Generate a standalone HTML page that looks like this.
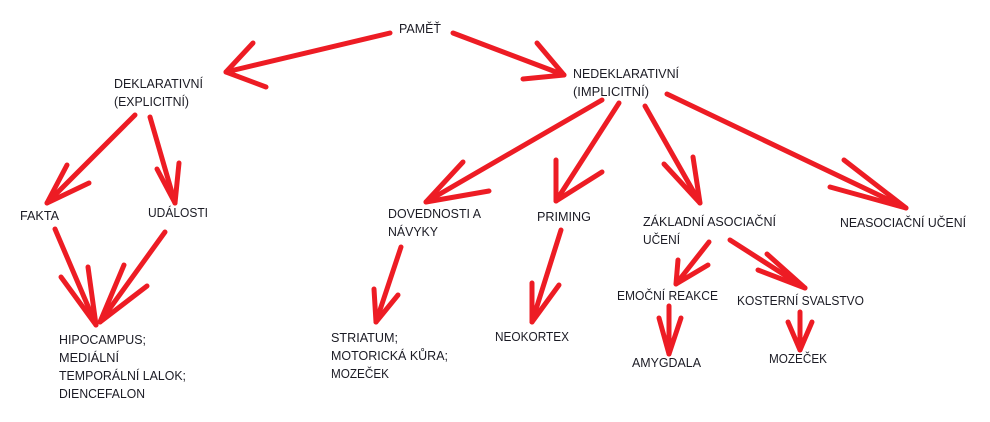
<!DOCTYPE html>
<html><head><meta charset="utf-8"><style>
html,body{margin:0;padding:0;background:#fff;width:990px;height:422px;overflow:hidden}
svg{display:block}
text{font-family:"Liberation Sans",sans-serif;font-size:13px;fill:#1b1b24}
.a{fill:none;stroke:#ed1c24;stroke-width:5;stroke-linecap:round;stroke-linejoin:round}
</style></head><body>
<svg width="990" height="422" viewBox="0 0 990 422" xmlns="http://www.w3.org/2000/svg">
<g class="a">
<polyline points="390,33 226,72"/><polyline points="253,43 226,72 266,87"/>
<polyline points="453,33 564,75"/><polyline points="537,43 564,75 523,79"/>
<polyline points="135,115 47,203"/><polyline points="67,165 47,203 89,183"/>
<polyline points="150,117 175,203"/><polyline points="157,169 175,203 179,163"/>
<polyline points="55,229 96,325"/><polyline points="61,277 96,325 88,267"/>
<polyline points="165,232 100,322"/><polyline points="124,265 100,322 147,286"/>
<polyline points="401,247 376,322"/><polyline points="374,289 376,322 398,295"/>
<polyline points="602,100 426,202"/><polyline points="463,162 426,202 489,191"/>
<polyline points="619,103 556,201"/><polyline points="556,160 556,201 602,172"/>
<polyline points="645,106 700,203"/><polyline points="664,164 700,203 693,157"/>
<polyline points="667,94 906,208"/><polyline points="844,160 906,208 830,187"/>
<polyline points="561,230 532,322"/><polyline points="532,283 532,322 559,285"/>
<polyline points="709,242 676,284"/><polyline points="678,260 676,284 708,265"/>
<polyline points="730,240 805,288"/><polyline points="767,254 805,288 758,270"/>
<polyline points="669,306 669,354"/><polyline points="659,318 669,354 681,318"/>
<polyline points="800,312 800,350"/><polyline points="788,322 800,350 812,322"/>
</g>
<text x="399" y="33" textLength="42" lengthAdjust="spacingAndGlyphs">PAMĚŤ</text>
<text x="114" y="88" textLength="89" lengthAdjust="spacingAndGlyphs">DEKLARATIVNÍ</text>
<text x="114" y="106" textLength="75" lengthAdjust="spacingAndGlyphs">(EXPLICITNÍ)</text>
<text x="20" y="220" textLength="39" lengthAdjust="spacingAndGlyphs">FAKTA</text>
<text x="148" y="217" textLength="60" lengthAdjust="spacingAndGlyphs">UDÁLOSTI</text>
<text x="59" y="344" textLength="87" lengthAdjust="spacingAndGlyphs">HIPOCAMPUS;</text>
<text x="59" y="362" textLength="60" lengthAdjust="spacingAndGlyphs">MEDIÁLNÍ</text>
<text x="59" y="380" textLength="127" lengthAdjust="spacingAndGlyphs">TEMPORÁLNÍ LALOK;</text>
<text x="59" y="398" textLength="86" lengthAdjust="spacingAndGlyphs">DIENCEFALON</text>
<text x="388" y="218" textLength="93" lengthAdjust="spacingAndGlyphs">DOVEDNOSTI A</text>
<text x="388" y="236" textLength="50" lengthAdjust="spacingAndGlyphs">NÁVYKY</text>
<text x="331" y="342" textLength="67" lengthAdjust="spacingAndGlyphs">STRIATUM;</text>
<text x="331" y="360" textLength="117" lengthAdjust="spacingAndGlyphs">MOTORICKÁ KŮRA;</text>
<text x="331" y="378" textLength="58" lengthAdjust="spacingAndGlyphs">MOZEČEK</text>
<text x="573" y="78" textLength="106" lengthAdjust="spacingAndGlyphs">NEDEKLARATIVNÍ</text>
<text x="573" y="96" textLength="76" lengthAdjust="spacingAndGlyphs">(IMPLICITNÍ)</text>
<text x="537" y="221" textLength="54" lengthAdjust="spacingAndGlyphs">PRIMING</text>
<text x="643" y="226" textLength="133" lengthAdjust="spacingAndGlyphs">ZÁKLADNÍ ASOCIAČNÍ</text>
<text x="643" y="244" textLength="37" lengthAdjust="spacingAndGlyphs">UČENÍ</text>
<text x="840" y="227" textLength="126" lengthAdjust="spacingAndGlyphs">NEASOCIAČNÍ UČENÍ</text>
<text x="495" y="341" textLength="74" lengthAdjust="spacingAndGlyphs">NEOKORTEX</text>
<text x="617" y="300" textLength="101" lengthAdjust="spacingAndGlyphs">EMOČNÍ REAKCE</text>
<text x="737" y="305" textLength="127" lengthAdjust="spacingAndGlyphs">KOSTERNÍ SVALSTVO</text>
<text x="632" y="367" textLength="69" lengthAdjust="spacingAndGlyphs">AMYGDALA</text>
<text x="769" y="363" textLength="58" lengthAdjust="spacingAndGlyphs">MOZEČEK</text>
</svg>
</body></html>
